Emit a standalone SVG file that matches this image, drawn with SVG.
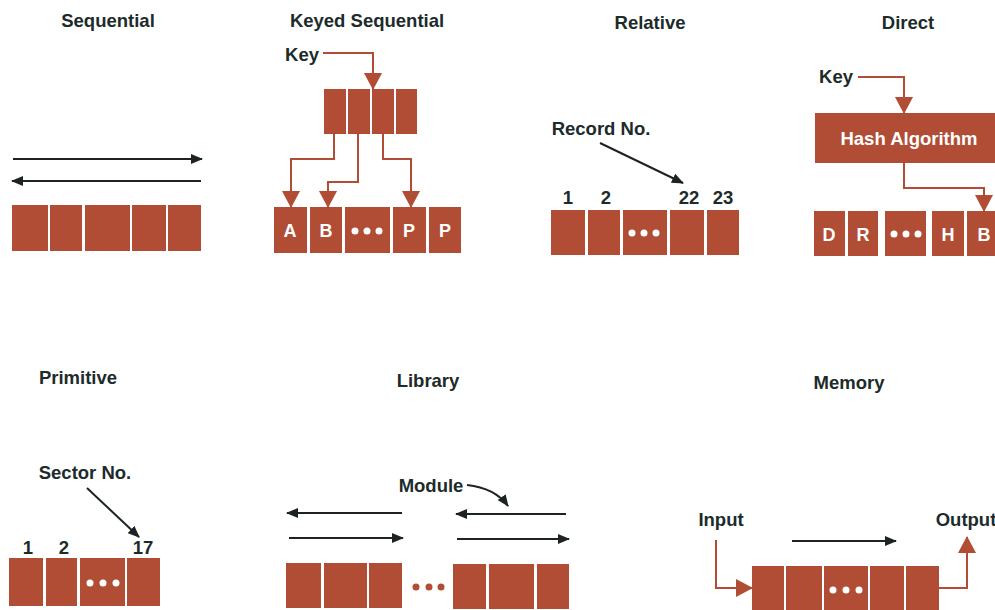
<svg xmlns="http://www.w3.org/2000/svg" width="995" height="610" viewBox="0 0 995 610">
<defs>
<style>
.t{font-family:"Liberation Sans",Arial,sans-serif;font-weight:bold;font-size:18.5px;fill:#1d2b2b;text-anchor:middle}
.w{font-family:"Liberation Sans",Arial,sans-serif;font-weight:bold;font-size:18px;fill:#fff;text-anchor:middle}
.b{fill:#b14d35}
.k{stroke:#1d2323;stroke-width:2;fill:none}
.r{stroke:#b14d35;stroke-width:2;fill:none}
.dot{fill:#fff}
</style>
<marker id="ak" markerWidth="12" markerHeight="10" refX="11" refY="5" orient="auto" markerUnits="userSpaceOnUse"><path d="M0,0 L12,5 L0,10 Z" fill="#1d2323"/></marker>
<marker id="ar" markerWidth="18" markerHeight="18" refX="16" refY="9" orient="auto" markerUnits="userSpaceOnUse"><path d="M0,0 L17,9 L0,18 Z" fill="#b14d35"/></marker>
</defs>
<rect width="995" height="610" fill="#fff"/>

<g id="sequential">
<text class="t" x="108" y="27">Sequential</text>
<rect class="b" x="12" y="205" width="36" height="46"/>
<rect class="b" x="50" y="205" width="32" height="46"/>
<rect class="b" x="85" y="205" width="45" height="46"/>
<rect class="b" x="132" y="205" width="34" height="46"/>
<rect class="b" x="168" y="205" width="33" height="46"/>
</g>

<g id="keyed-sequential">
<text class="t" x="367" y="27">Keyed Sequential</text>
<text class="t" x="302" y="61">Key</text>
<rect class="b" x="324" y="89" width="22" height="45"/>
<rect class="b" x="348" y="89" width="22" height="45"/>
<rect class="b" x="372" y="89" width="22" height="45"/>
<rect class="b" x="396" y="89" width="21" height="45"/>
<rect class="b" x="274" y="207" width="33" height="46"/>
<rect class="b" x="310" y="207" width="32" height="46"/>
<rect class="b" x="345" y="207" width="45" height="46"/>
<rect class="b" x="393" y="207" width="33" height="46"/>
<rect class="b" x="429" y="207" width="32" height="46"/>
<text class="w" x="290" y="237">A</text>
<text class="w" x="326" y="237">B</text>
<circle class="dot" cx="355" cy="231" r="3.5"/><circle class="dot" cx="367" cy="231" r="3.5"/><circle class="dot" cx="379" cy="231" r="3.5"/>
<text class="w" x="409" y="237">P</text>
<text class="w" x="445" y="237">P</text>
</g>

<g id="relative">
<text class="t" x="650" y="29">Relative</text>
<text class="t" x="601" y="135">Record No.</text>
<text class="t" x="568" y="204">1</text>
<text class="t" x="606" y="204">2</text>
<text class="t" x="689" y="204">22</text>
<text class="t" x="723" y="204">23</text>
<rect class="b" x="551" y="210" width="34" height="45"/>
<rect class="b" x="588" y="210" width="32" height="45"/>
<rect class="b" x="623" y="210" width="44" height="45"/>
<rect class="b" x="670" y="210" width="34" height="45"/>
<rect class="b" x="707" y="210" width="32" height="45"/>
<circle class="dot" cx="632" cy="233" r="3.5"/><circle class="dot" cx="644" cy="233" r="3.5"/><circle class="dot" cx="656" cy="233" r="3.5"/>
</g>

<g id="direct">
<text class="t" x="908" y="29">Direct</text>
<text class="t" x="836" y="83">Key</text>
<rect class="b" x="815" y="113" width="182" height="50"/>
<text class="w" x="909" y="145" style="font-size:18.5px">Hash Algorithm</text>
<rect class="b" x="814" y="211" width="31" height="45"/>
<rect class="b" x="848" y="211" width="30" height="45"/>
<rect class="b" x="885" y="211" width="41" height="45"/>
<rect class="b" x="932" y="211" width="32" height="45"/>
<rect class="b" x="967" y="211" width="30" height="45"/>
<text class="w" x="829" y="241">D</text>
<text class="w" x="863" y="241">R</text>
<circle class="dot" cx="894" cy="234" r="3.5"/><circle class="dot" cx="906" cy="234" r="3.5"/><circle class="dot" cx="918" cy="234" r="3.5"/>
<text class="w" x="948" y="241">H</text>
<text class="w" x="984" y="241">B</text>
</g>

<g id="primitive">
<text class="t" x="78" y="384">Primitive</text>
<text class="t" x="85" y="479">Sector No.</text>
<text class="t" x="28" y="554">1</text>
<text class="t" x="64" y="554">2</text>
<text class="t" x="143" y="554">17</text>
<rect class="b" x="9" y="558" width="34" height="48"/>
<rect class="b" x="46" y="558" width="31" height="48"/>
<rect class="b" x="80" y="558" width="45" height="48"/>
<rect class="b" x="127" y="558" width="33" height="48"/>
<circle class="dot" cx="90" cy="583" r="3.5"/><circle class="dot" cx="103" cy="583" r="3.5"/><circle class="dot" cx="116" cy="583" r="3.5"/>
</g>

<g id="library">
<text class="t" x="428" y="387">Library</text>
<text class="t" x="431" y="492">Module</text>
<rect class="b" x="286" y="563" width="35" height="45"/>
<rect class="b" x="324" y="563" width="43" height="45"/>
<rect class="b" x="369" y="563" width="33" height="45"/>
<circle class="b" cx="416" cy="587" r="3.5"/><circle class="b" cx="429" cy="587" r="3.5"/><circle class="b" cx="441" cy="587" r="3.5"/>
<rect class="b" x="453" y="564" width="33" height="45"/>
<rect class="b" x="489" y="564" width="45" height="45"/>
<rect class="b" x="537" y="564" width="32" height="45"/>
</g>

<g id="memory">
<text class="t" x="849" y="389">Memory</text>
<text class="t" x="721" y="526">Input</text>
<text class="t" x="966" y="526">Output</text>
<rect class="b" x="752" y="566" width="32" height="44"/>
<rect class="b" x="786" y="566" width="36" height="44"/>
<rect class="b" x="824" y="566" width="44" height="44"/>
<rect class="b" x="870" y="566" width="34" height="44"/>
<rect class="b" x="906" y="566" width="33" height="44"/>
<circle class="dot" cx="833" cy="590" r="3.5"/><circle class="dot" cx="846" cy="590" r="3.5"/><circle class="dot" cx="859" cy="590" r="3.5"/>
</g>

<g id="connectors">
<line class="k" x1="13" y1="159" x2="202" y2="159" marker-end="url(#ak)"/>
<line class="k" x1="201" y1="181" x2="12" y2="181" marker-end="url(#ak)"/>
<polyline class="r" points="323,53 373,53 373,89" marker-end="url(#ar)"/>
<polyline class="r" points="334,134 334,159 291,159 291,207" marker-end="url(#ar)"/>
<polyline class="r" points="358,134 358,182 328,182 328,207" marker-end="url(#ar)"/>
<polyline class="r" points="383,134 383,159 411,159 411,207" marker-end="url(#ar)"/>
<line class="k" x1="600" y1="143" x2="683" y2="183" marker-end="url(#ak)"/>
<polyline class="r" points="858,77 904,77 904,113" marker-end="url(#ar)"/>
<polyline class="r" points="904,163 904,188 984,188 984,211" marker-end="url(#ar)"/>
<line class="k" x1="87" y1="488" x2="139" y2="537" marker-end="url(#ak)"/>
<path class="k" d="M467,485 Q495,488 508,506" marker-end="url(#ak)"/>
<line class="k" x1="402" y1="513" x2="287" y2="513" marker-end="url(#ak)"/>
<line class="k" x1="289" y1="538" x2="403" y2="538" marker-end="url(#ak)"/>
<line class="k" x1="566" y1="514" x2="456" y2="514" marker-end="url(#ak)"/>
<line class="k" x1="457" y1="539" x2="569" y2="539" marker-end="url(#ak)"/>
<line class="k" x1="792" y1="541" x2="896" y2="541" marker-end="url(#ak)"/>
<polyline class="r" points="716,540 716,588 752,588" marker-end="url(#ar)"/>
<polyline class="r" points="939,588 967,588 967,537" marker-end="url(#ar)"/>
</g>
</svg>
